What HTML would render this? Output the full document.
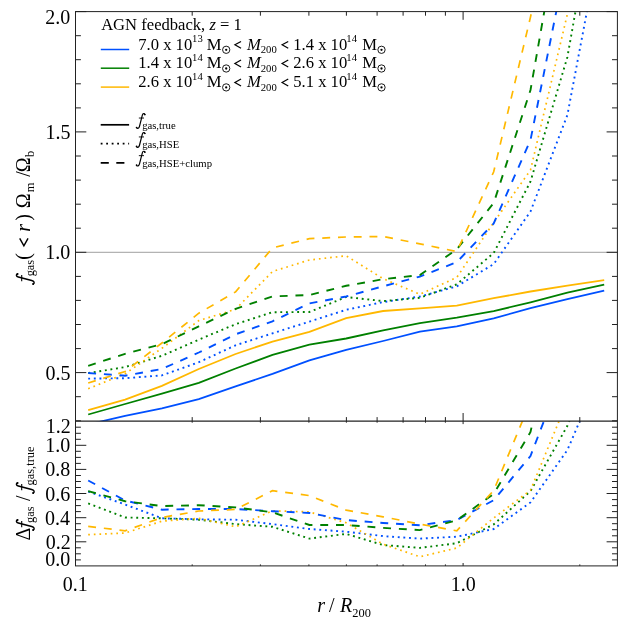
<!DOCTYPE html><html><head><meta charset="utf-8"><style>html,body{margin:0;padding:0;background:#fff}svg{display:block}text{font-family:"Liberation Serif",serif;fill:#000}</style></head><body>
<svg width="629" height="629" viewBox="0 0 629 629">
<rect width="629" height="629" fill="#fff"/>
<defs><clipPath id="ct"><rect x="75.5" y="11.6" width="541.9" height="409.59999999999997"/></clipPath><clipPath id="cb"><rect x="75.5" y="421.2" width="541.9" height="144.7"/></clipPath><g id="gf"><path d="M0.555,-0.602 C0.535,-0.685 0.43,-0.685 0.4,-0.565 L0.228,0.105 C0.198,0.225 0.11,0.27 0.045,0.185" fill="none" stroke="#000" stroke-width="0.072" stroke-linecap="round"/><circle cx="0.548" cy="-0.605" r="0.05"/><circle cx="0.052" cy="0.175" r="0.05"/><path d="M0.19,-0.395H0.5" stroke="#000" stroke-width="0.055" fill="none"/></g><g id="lt"><path d="M0.40,-0.494 L0.03,-0.286 L0.40,-0.078" fill="none" stroke="#000" stroke-width="0.072"/></g></defs>
<line x1="75.5" x2="617.4" y1="252.3" y2="252.3" stroke="#888" stroke-width="0.8"/>
<g clip-path="url(#ct)">
<polyline points="88.2,424.5 125.1,415.8 161.9,408.3 198.8,399.2 235.6,386.4 272.5,373.9 309.4,360.4 346.2,349.9 383.1,341.0 419.9,331.6 456.8,326.3 493.7,318.3 530.5,308.2 567.4,299.2 604.2,290.6" fill="none" stroke="#0050ff" stroke-width="1.8"/>
<polyline points="88.2,414.5 125.1,404.0 161.9,393.7 198.8,382.9 235.6,368.5 272.5,354.8 309.4,344.6 346.2,338.5 383.1,330.3 419.9,323.2 456.8,317.6 493.7,311.1 530.5,302.3 567.4,292.7 604.2,284.6" fill="none" stroke="#008000" stroke-width="1.8"/>
<polyline points="88.2,410.1 125.1,399.6 161.9,385.8 198.8,369.0 235.6,354.0 272.5,341.6 309.4,331.9 346.2,318.1 383.1,311.0 419.9,308.4 456.8,305.6 493.7,298.2 530.5,291.5 567.4,285.6 604.2,280.1" fill="none" stroke="#ffb800" stroke-width="1.8"/>
<polyline points="88.2,378.6 125.1,378.2 161.9,375.4 198.8,362.2 235.6,345.3 272.5,333.3 309.4,321.6 346.2,309.8 383.1,302.1 419.9,296.5 456.8,286.3 493.7,264.1 530.5,211.5 567.4,115.0 604.2,-80.0" fill="none" stroke="#0050ff" stroke-width="1.9" stroke-dasharray="1.9 3.73"/>
<polyline points="88.2,373.1 125.1,367.1 161.9,355.8 198.8,339.6 235.6,324.2 272.5,312.2 309.4,312.0 346.2,297.0 383.1,301.1 419.9,297.8 456.8,284.3 493.7,253.0 530.5,181.5 567.4,57.0 604.2,-150.0" fill="none" stroke="#008000" stroke-width="1.9" stroke-dasharray="1.9 3.73"/>
<polyline points="88.2,388.7 125.1,373.8 161.9,348.3 198.8,320.6 235.6,309.3 272.5,271.5 309.4,260.0 346.2,255.8 383.1,278.7 419.9,294.3 456.8,277.4 493.7,222.5 530.5,170.0 567.4,14.0 604.2,-160.0" fill="none" stroke="#ffb800" stroke-width="1.7" stroke-dasharray="1.7 3.9299999999999997"/>
<polyline points="88.2,373.0 125.1,375.7 161.9,369.0 198.8,352.5 235.6,334.3 272.5,321.3 309.4,303.4 346.2,296.5 383.1,286.3 419.9,276.6 456.8,262.1 493.7,223.5 530.5,140.0 567.4,-43.8 604.2,-230.0" fill="none" stroke="#0050ff" stroke-width="1.9" stroke-dasharray="7.9 7.85"/>
<polyline points="88.2,365.8 125.1,353.8 161.9,344.2 198.8,326.3 235.6,308.9 272.5,296.4 309.4,295.0 346.2,285.8 383.1,279.2 419.9,275.0 456.8,249.3 493.7,203.0 530.5,90.0 567.4,-120.0 604.2,-330.0" fill="none" stroke="#008000" stroke-width="1.9" stroke-dasharray="7.9 7.85"/>
<polyline points="88.2,383.0 125.1,371.5 161.9,343.0 198.8,313.2 235.6,291.9 272.5,247.9 309.4,238.6 346.2,237.0 383.1,236.5 419.9,243.8 456.8,251.6 493.7,171.8 530.5,17.0 567.4,-150.0 604.2,-350.0" fill="none" stroke="#ffb800" stroke-width="1.7" stroke-dasharray="7.9 7.85"/>
</g><g clip-path="url(#cb)">
<polyline points="88.2,491.5 125.1,504.5 161.9,518.3 198.8,519.3 235.6,519.7 272.5,524.1 309.4,529.0 346.2,531.7 383.1,536.1 419.9,538.6 456.8,536.7 493.7,529.0 530.5,502.4 567.4,450.0 604.2,364.0" fill="none" stroke="#0050ff" stroke-width="1.9" stroke-dasharray="1.9 3.73"/>
<polyline points="88.2,503.4 125.1,517.5 161.9,518.3 198.8,519.7 235.6,524.1 272.5,526.8 309.4,538.6 346.2,533.9 383.1,545.0 419.9,547.9 456.8,543.2 493.7,524.4 530.5,491.1 567.4,425.8 604.2,335.0" fill="none" stroke="#008000" stroke-width="1.9" stroke-dasharray="1.9 3.73"/>
<polyline points="88.2,534.6 125.1,533.0 161.9,521.2 198.8,518.3 235.6,526.8 272.5,510.8 309.4,511.9 346.2,522.8 383.1,544.2 419.9,556.8 456.8,548.0 493.7,518.0 530.5,490.2 567.4,401.0 604.2,310.0" fill="none" stroke="#ffb800" stroke-width="1.7" stroke-dasharray="1.7 3.9299999999999997"/>
<polyline points="88.2,480.5 125.1,500.5 161.9,509.7 198.8,509.0 235.6,509.0 272.5,511.2 309.4,513.0 346.2,520.1 383.1,523.0 419.9,525.2 456.8,520.0 493.7,500.2 530.5,456.0 567.4,360.0 604.2,240.0" fill="none" stroke="#0050ff" stroke-width="1.9" stroke-dasharray="7.9 7.85"/>
<polyline points="88.2,491.2 125.1,501.2 161.9,506.1 198.8,505.2 235.6,507.4 272.5,512.3 309.4,525.0 346.2,525.0 383.1,527.9 419.9,530.1 456.8,520.3 493.7,493.9 530.5,432.0 567.4,263.0 604.2,230.0" fill="none" stroke="#008000" stroke-width="1.9" stroke-dasharray="7.9 7.85"/>
<polyline points="88.2,526.4 125.1,530.8 161.9,517.5 198.8,511.0 235.6,509.4 272.5,490.7 309.4,495.6 346.2,510.1 383.1,516.8 419.9,524.1 456.8,530.8 493.7,490.5 530.5,401.5 567.4,310.0 604.2,220.0" fill="none" stroke="#ffb800" stroke-width="1.7" stroke-dasharray="7.9 7.85"/>
</g>
<rect x="75.5" y="11.6" width="541.9" height="554.3" fill="none" stroke="#222" stroke-width="1.0"/>
<line x1="75.5" x2="617.4" y1="421.2" y2="421.2" stroke="#222" stroke-width="1.25"/>
<path d="M75.5 11.6v8.2 M75.5 421.2v-8.2 M75.5 421.2v2.9 M75.5 565.9v-2.9 M192.2 11.6v4.1 M192.2 421.2v-4.1 M192.2 421.2v1.5 M192.2 565.9v-1.5 M260.4 11.6v4.1 M260.4 421.2v-4.1 M260.4 421.2v1.5 M260.4 565.9v-1.5 M308.9 11.6v4.1 M308.9 421.2v-4.1 M308.9 421.2v1.5 M308.9 565.9v-1.5 M346.4 11.6v4.1 M346.4 421.2v-4.1 M346.4 421.2v1.5 M346.4 565.9v-1.5 M377.1 11.6v4.1 M377.1 421.2v-4.1 M377.1 421.2v1.5 M377.1 565.9v-1.5 M403.1 11.6v4.1 M403.1 421.2v-4.1 M403.1 421.2v1.5 M403.1 565.9v-1.5 M425.5 11.6v4.1 M425.5 421.2v-4.1 M425.5 421.2v1.5 M425.5 565.9v-1.5 M445.4 11.6v4.1 M445.4 421.2v-4.1 M445.4 421.2v1.5 M445.4 565.9v-1.5 M463.1 11.6v8.2 M463.1 421.2v-8.2 M463.1 421.2v2.9 M463.1 565.9v-2.9 M579.8 11.6v4.1 M579.8 421.2v-4.1 M579.8 421.2v1.5 M579.8 565.9v-1.5 M75.5 420.8h5.4 M617.4 420.8h-5.4 M75.5 396.7h5.4 M617.4 396.7h-5.4 M75.5 372.6h10.8 M617.4 372.6h-10.8 M75.5 348.6h5.4 M617.4 348.6h-5.4 M75.5 324.5h5.4 M617.4 324.5h-5.4 M75.5 300.4h5.4 M617.4 300.4h-5.4 M75.5 276.4h5.4 M617.4 276.4h-5.4 M75.5 252.3h10.8 M617.4 252.3h-10.8 M75.5 228.2h5.4 M617.4 228.2h-5.4 M75.5 204.2h5.4 M617.4 204.2h-5.4 M75.5 180.1h5.4 M617.4 180.1h-5.4 M75.5 156.0h5.4 M617.4 156.0h-5.4 M75.5 131.9h10.8 M617.4 131.9h-10.8 M75.5 107.9h5.4 M617.4 107.9h-5.4 M75.5 83.8h5.4 M617.4 83.8h-5.4 M75.5 59.7h5.4 M617.4 59.7h-5.4 M75.5 35.7h5.4 M617.4 35.7h-5.4 M75.5 11.6h10.8 M617.4 11.6h-10.8 M75.5 559.9h5.4 M617.4 559.9h-5.4 M75.5 553.8h5.4 M617.4 553.8h-5.4 M75.5 547.8h5.4 M617.4 547.8h-5.4 M75.5 541.8h10.8 M617.4 541.8h-10.8 M75.5 535.8h5.4 M617.4 535.8h-5.4 M75.5 529.7h5.4 M617.4 529.7h-5.4 M75.5 523.7h5.4 M617.4 523.7h-5.4 M75.5 517.7h10.8 M617.4 517.7h-10.8 M75.5 511.6h5.4 M617.4 511.6h-5.4 M75.5 505.6h5.4 M617.4 505.6h-5.4 M75.5 499.6h5.4 M617.4 499.6h-5.4 M75.5 493.5h10.8 M617.4 493.5h-10.8 M75.5 487.5h5.4 M617.4 487.5h-5.4 M75.5 481.5h5.4 M617.4 481.5h-5.4 M75.5 475.5h5.4 M617.4 475.5h-5.4 M75.5 469.4h10.8 M617.4 469.4h-10.8 M75.5 463.4h5.4 M617.4 463.4h-5.4 M75.5 457.4h5.4 M617.4 457.4h-5.4 M75.5 451.3h5.4 M617.4 451.3h-5.4 M75.5 445.3h10.8 M617.4 445.3h-10.8 M75.5 439.3h5.4 M617.4 439.3h-5.4 M75.5 433.3h5.4 M617.4 433.3h-5.4 M75.5 427.2h5.4 M617.4 427.2h-5.4" fill="none" stroke="#222" stroke-width="1.0"/>
<g style="filter:grayscale(1)">
<text x="45.36" y="23.90" font-size="20.0">2.0</text>
<text x="45.38" y="139.05" font-size="20.0">1.5</text>
<text x="45.36" y="259.40" font-size="20.0">1.0</text>
<text x="45.38" y="379.75" font-size="20.0">0.5</text>
<text x="45.70" y="433.20" font-size="20.0">1.2</text>
<text x="45.36" y="452.32" font-size="20.0">1.0</text>
<text x="45.36" y="476.43" font-size="20.0">0.8</text>
<text x="45.20" y="500.55" font-size="20.0">0.6</text>
<text x="44.91" y="524.67" font-size="20.0">0.4</text>
<text x="45.70" y="548.78" font-size="20.0">0.2</text>
<text x="45.36" y="566.20" font-size="20.0">0.0</text>
<text x="62.64" y="591.00" font-size="20.0">0.1</text>
<text x="450.64" y="591.00" font-size="20.0">1.0</text>
<text x="317.19" y="612.40" font-size="20.0" font-style="italic">r</text>
<text x="329.10" y="612.40" font-size="20.0">/</text>
<text x="339.91" y="612.40" font-size="20.0" font-style="italic">R</text>
<text x="352.26" y="616.70" font-size="12.4">200</text>
<use href="#gf" transform="translate(29.60,285.00) rotate(-90) scale(20.0)"/>
<text transform="translate(33.90,276.33) rotate(-90)" font-size="12.4">gas</text>
<text transform="translate(29.60,259.78) rotate(-90)" font-size="20.0">(</text>
<use href="#lt" transform="translate(29.60,246.40) rotate(-90) scale(20.0)"/>
<text transform="translate(29.60,231.71) rotate(-90)" font-size="20.0" font-style="italic">r</text>
<text transform="translate(29.60,220.74) rotate(-90)" font-size="20.0">)</text>
<text transform="translate(29.60,208.34) rotate(-90)" font-size="20.0">Ω</text>
<text transform="translate(33.90,192.36) rotate(-90)" font-size="12.4">m</text>
<text transform="translate(29.60,176.80) rotate(-90)" font-size="20.0">/</text>
<text transform="translate(29.60,172.14) rotate(-90)" font-size="20.0">Ω</text>
<text transform="translate(33.90,157.10) rotate(-90)" font-size="12.4">b</text>
<text transform="translate(29.60,540.46) rotate(-90)" font-size="20.0">Δ</text>
<use href="#gf" transform="translate(29.60,531.00) rotate(-90) scale(20.0)"/>
<text transform="translate(33.90,522.93) rotate(-90)" font-size="12.4">gas</text>
<text transform="translate(29.60,501.00) rotate(-90)" font-size="20.0">/</text>
<use href="#gf" transform="translate(29.60,494.00) rotate(-90) scale(20.0)"/>
<text transform="translate(33.90,485.43) rotate(-90)" font-size="12.4">gas,true</text>
<text x="101.15" y="30.4" font-size="16.6">AGN feedback, <tspan font-style="italic">z</tspan> = 1</text>
<text x="138.28" y="49.60" font-size="16.6">7.0 x 10</text>
<text x="192.06" y="42.00" font-size="10.7">13</text>
<text x="206.72" y="49.60" font-size="16.6">M</text>
<circle cx="226.2" cy="49.800000000000004" r="3.65" fill="none" stroke="#000" stroke-width="0.9"/><circle cx="226.2" cy="49.800000000000004" r="1.15" fill="#000"/>
<use href="#lt" transform="translate(234.40,49.60) scale(16.6)"/>
<text x="246.89" y="49.60" font-size="16.6" font-style="italic">M</text>
<text x="260.73" y="53.30" font-size="10.7">200</text>
<use href="#lt" transform="translate(281.60,49.60) scale(16.6)"/>
<text x="293.28" y="49.60" font-size="16.6">1.4 x 10</text>
<text x="346.36" y="42.00" font-size="10.7">14</text>
<text x="362.32" y="49.60" font-size="16.6">M</text>
<circle cx="381.5" cy="49.800000000000004" r="3.65" fill="none" stroke="#000" stroke-width="0.9"/><circle cx="381.5" cy="49.800000000000004" r="1.15" fill="#000"/>
<text x="138.28" y="68.30" font-size="16.6">1.4 x 10</text>
<text x="192.06" y="60.70" font-size="10.7">14</text>
<text x="206.72" y="68.30" font-size="16.6">M</text>
<circle cx="226.2" cy="68.5" r="3.65" fill="none" stroke="#000" stroke-width="0.9"/><circle cx="226.2" cy="68.5" r="1.15" fill="#000"/>
<use href="#lt" transform="translate(234.40,68.30) scale(16.6)"/>
<text x="246.89" y="68.30" font-size="16.6" font-style="italic">M</text>
<text x="260.73" y="72.00" font-size="10.7">200</text>
<use href="#lt" transform="translate(281.60,68.30) scale(16.6)"/>
<text x="293.28" y="68.30" font-size="16.6">2.6 x 10</text>
<text x="346.36" y="60.70" font-size="10.7">14</text>
<text x="362.32" y="68.30" font-size="16.6">M</text>
<circle cx="381.5" cy="68.5" r="3.65" fill="none" stroke="#000" stroke-width="0.9"/><circle cx="381.5" cy="68.5" r="1.15" fill="#000"/>
<text x="138.28" y="87.20" font-size="16.6">2.6 x 10</text>
<text x="192.06" y="79.60" font-size="10.7">14</text>
<text x="206.72" y="87.20" font-size="16.6">M</text>
<circle cx="226.2" cy="87.39999999999999" r="3.65" fill="none" stroke="#000" stroke-width="0.9"/><circle cx="226.2" cy="87.39999999999999" r="1.15" fill="#000"/>
<use href="#lt" transform="translate(234.40,87.20) scale(16.6)"/>
<text x="246.89" y="87.20" font-size="16.6" font-style="italic">M</text>
<text x="260.73" y="90.90" font-size="10.7">200</text>
<use href="#lt" transform="translate(281.60,87.20) scale(16.6)"/>
<text x="293.28" y="87.20" font-size="16.6">5.1 x 10</text>
<text x="346.36" y="79.60" font-size="10.7">14</text>
<text x="362.32" y="87.20" font-size="16.6">M</text>
<circle cx="381.5" cy="87.39999999999999" r="3.65" fill="none" stroke="#000" stroke-width="0.9"/><circle cx="381.5" cy="87.39999999999999" r="1.15" fill="#000"/>
<line x1="100.7" x2="129.1" y1="124.8" y2="124.8" stroke="#000" stroke-width="1.7" />
<use href="#gf" transform="translate(135.70,124.60) scale(16.6)"/>
<text x="142.14" y="128.70" font-size="10.7">gas,true</text>
<line x1="100.7" x2="129.1" y1="143.7" y2="143.7" stroke="#000" stroke-width="1.7" stroke-dasharray="1.8 3.7"/>
<use href="#gf" transform="translate(135.70,143.50) scale(16.6)"/>
<text x="142.14" y="147.60" font-size="10.7">gas,HSE</text>
<line x1="100.7" x2="129.1" y1="162.8" y2="162.8" stroke="#000" stroke-width="1.7" stroke-dasharray="8.1 7.5"/>
<use href="#gf" transform="translate(135.70,162.20) scale(16.6)"/>
<text x="142.14" y="166.80" font-size="10.7">gas,HSE+clump</text>
</g>
<line x1="100.8" x2="129.2" y1="49.5" y2="49.5" stroke="#0050ff" stroke-width="1.5"/>
<line x1="100.8" x2="129.2" y1="68.2" y2="68.2" stroke="#008000" stroke-width="1.5"/>
<line x1="100.8" x2="129.2" y1="87.1" y2="87.1" stroke="#ffb800" stroke-width="1.5"/>
</svg></body></html>
